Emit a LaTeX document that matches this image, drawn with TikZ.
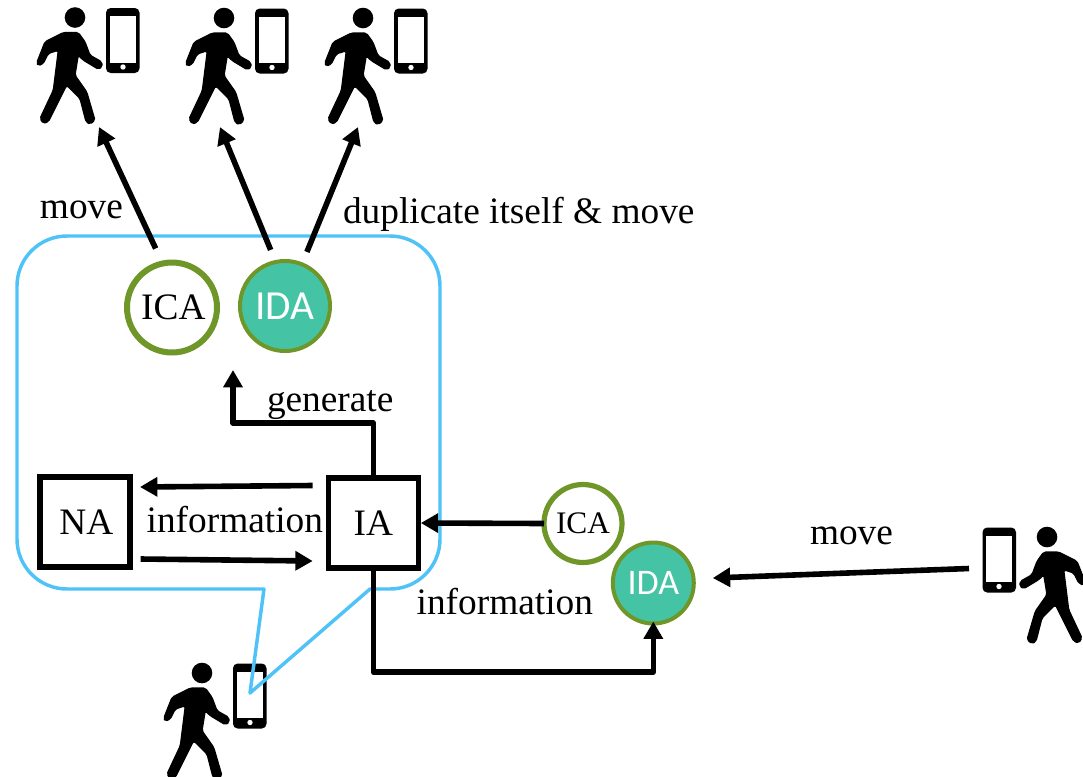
\documentclass[tikz,border=0pt]{standalone}
\usepackage{fontspec}
\setmainfont{Liberation Serif}
\newfontfamily\idafont{Carlito}
\usetikzlibrary{arrows.meta}
\definecolor{balloon}{HTML}{4FC3F7}
\definecolor{olive}{HTML}{6F9628}
\definecolor{teal}{HTML}{45C4A5}
\tikzset{
  agentbox/.style={draw=black,line width=4pt,fill=white,minimum size=67.5pt,inner sep=0pt,outer sep=0pt,font=\fontsize{28}{30}\selectfont},
  icabig/.style={circle,draw=olive,line width=4.5pt,fill=white,minimum size=67.5pt,inner sep=0pt,outer sep=0pt,font=\fontsize{28}{30}\selectfont},
  idabig/.style={circle,draw=olive,line width=3pt,fill=teal,text=white,minimum size=67.5pt,inner sep=0pt,outer sep=0pt,font=\idafont\fontsize{31}{33}\selectfont},
  icasmall/.style={circle,draw=olive,line width=3.9pt,fill=white,minimum size=58.5pt,inner sep=0pt,outer sep=0pt,font=\fontsize{23.5}{26}\selectfont},
  idasmall/.style={circle,draw=olive,line width=3pt,fill=teal,text=white,minimum size=60.75pt,inner sep=0pt,outer sep=0pt,font=\idafont\fontsize{27}{29}\selectfont},
  arr/.style={draw=black,line width=4.2pt,line join=round,-{Triangle[length=13pt,width=14pt]}},
  lab/.style={anchor=base west,inner sep=0pt,outer sep=0pt,font=\fontsize{28}{30}\selectfont},
  walker/.pic={
    % head
    \fill[black] (0,0) circle [radius=10.3];
    % body
    \filldraw[black,line width=0.9pt,line join=round,rounded corners=1.4pt]
      (-38.3,45.3) -- (-30,24.3) -- (-11.7,15) -- (3.3,15) -- (10,24.3) -- (15,37.7)
      -- (26.7,44.3) -- (27.3,49.3) -- (23.3,51.7) -- (8.3,42.7) -- (3.3,37.7) -- (0,57.7)
      -- (11.7,74.3) -- (20,102.7) -- (15,106.7) -- (11,104.3) -- (5,81) -- (-8.3,67.7)
      -- (-26.7,104.3) -- (-31.7,106) -- (-35,101) -- (-21.7,72.7) -- (-16.7,32.7)
      -- (-26.7,36) -- (-31.7,46) -- (-36.7,48.3) -- cycle;
    % phone
    \fill[black,rounded corners=3.5pt] (31,-9.5) rectangle (64.5,55.5);
    \fill[white] (35,-1.5) rectangle (61,45);
    \fill[white] (48,49.5) circle [radius=2.7];
  }
}
\begin{document}
\begin{tikzpicture}[x=0.75pt,y=-0.75pt]
\useasboundingbox (0,0) rectangle (1083,776);

% walkers
\pic (w1) at (75,17.5) {walker};
\pic (w2) at (224,18) {walker};
\pic (w3) at (363,18) {walker};
\pic (w4) at (202,673) {walker};
\pic[xscale=-1] (w5) at (1047,537) {walker};

% balloon
\draw[balloon,line width=2.6pt,line join=round]
  (264,589) -- (250,693) -- (370,589)
  -- (390,589) arc[start angle=90,end angle=0,radius=50]
  -- (440,286) arc[start angle=0,end angle=-90,radius=50]
  -- (67,236) arc[start angle=-90,end angle=-180,radius=50]
  -- (17,539) arc[start angle=180,end angle=90,radius=50]
  -- cycle;

% nodes
\node[agentbox] (na) at (85,522) {\kern2pt NA};
\node[agentbox] (ia) at (373.3,523) {IA};
\node[icabig] (ica) at (172,307.5) {\kern2pt ICA};
\node[idabig] (ida) at (285,306) {IDA};
\node[icasmall] (icas) at (583,523.5) {ICA};
\node[idasmall] (idas) at (653.3,583) {IDA};

% free ends
\coordinate (t1) at (99,127);
\coordinate (t2) at (220,127);
\coordinate (t3) at (358,127);
\coordinate (genbend) at (233,423);
\coordinate (gentip) at (233,370);
\coordinate (infobend) at (653.3,672);
\coordinate (movetail) at (969,568.5);

% connectors
\draw[arr,shorten <=12.4pt] (ica.102.7) -- (t1);
\draw[arr,shorten <=9.8pt] (ida.102.5) -- (t2);
\draw[arr,shorten <=10pt] (ida.68.4) -- (t3);
\draw[arr] (ia.north) |- (genbend) -- (gentip);
\draw[arr] ([shift={(-15.6,-37.5)}]ia.west) -- ([shift={(10,-35)}]na.east);
\draw[arr] ([shift={(10.7,37)}]na.east) -- ([shift={(-15.6,38)}]ia.west);
\draw[arr] (icas.west) -- ([xshift=1.9pt]ia.east);
\draw[arr] (ia.south) |- (infobend) -- ([yshift=1.5pt]idas.south);
\draw[arr] (movetail) -- ([shift={(19,-5)}]idas.east);

% labels
\node[lab] (l1) at (40,218) {move};
\node[lab] (l2) at (343,223) {duplicate itself \& move};
\node[lab] (l3) at (267,411) {generate};
\node[lab] (l4) at (146.7,532) {information};
\node[lab] (l5) at (416.7,614.5) {information};
\node[lab] (l6) at (810,544) {move};
\end{tikzpicture}
\end{document}
